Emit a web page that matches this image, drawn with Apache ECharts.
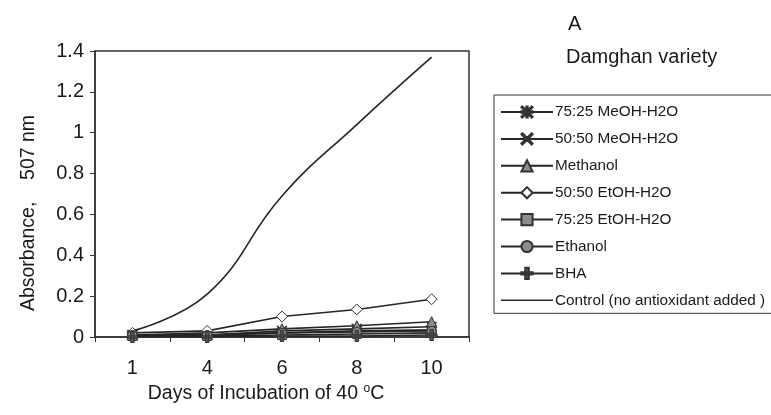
<!DOCTYPE html>
<html>
<head>
<meta charset="utf-8">
<script src="https://cdn.jsdelivr.net/npm/echarts@6/dist/echarts.min.js"></script>
<style>
	html, body { margin: 0; padding: 0; background: #fff; }
	#chart { width: 771px; height: 415px; }
</style>
</head>
<body>
<div id="chart"></div>
<script>
	// 横轴：培养天数
	var days = ['1', '4', '6', '8', '10'];
	var yTicks = [0, 0.2, 0.4, 0.6, 0.8, 1, 1.2, 1.4];

	// 各提取物吸光度
	var meoh7525 = [0.01, 0.01, 0.03, 0.04, 0.05];
	var meoh5050 = [0.01, 0.01, 0.02, 0.03, 0.035];
	var methanol = [0.01, 0.02, 0.04, 0.055, 0.075];
	var etoh5050 = [0.02, 0.03, 0.1, 0.135, 0.185];
	var etoh7525 = [0.005, 0.005, 0.01, 0.015, 0.02];
	var ethanol = [0.01, 0.01, 0.02, 0.025, 0.03];
	var bha = [0, 0, 0.005, 0.005, 0.01];
	var control = [0.03, 0.21, 0.69, 1.04, 1.37];

	var seriesNames = ['75:25 MeOH-H2O', '50:50 MeOH-H2O', 'Methanol', '50:50 EtOH-H2O',
		'75:25 EtOH-H2O', 'Ethanol', 'BHA', 'Control (no antioxidant added )'];

	var asterisk = 'path://M4.4 0h1.2v10h-1.2Z M0 4.4h10v1.2h-10Z M0.8 0L10 9.2L9.2 10L0 0.8Z M9.2 0L10 0.8L0.8 10L0 9.2Z';
	var cross = 'path://M0.9 0L10 9.1L9.1 10L0 0.9Z M9.1 0L10 0.9L0.9 10L0 9.1Z';
	var bar = 'path://M4.2 0h1.6v10h-1.6Z M2.5 4h5v2h-5Z';
	var plainLine = 'path://M0 0h52v1.6h-52Z';

	var lineColor = '#262626';
	var fontName = 'Liberation Sans';
	var txt = '#1a1a1a';

	function mkSeries(name, data, symbol, size, fill) {
		return {
			name: name,
			type: 'line',
			data: data,
			symbol: symbol,
			symbolSize: size,
			showSymbol: symbol != 'none',
			lineStyle: { color: lineColor, width: 1.6 },
			itemStyle: { color: fill, borderColor: '#333', borderWidth: 1 },
			emphasis: { disabled: true }
		};
	}

	var series = [
		mkSeries(seriesNames[0], meoh7525, asterisk, 10, '#555'),
		mkSeries(seriesNames[1], meoh5050, cross, 10, '#555'),
		mkSeries(seriesNames[2], methanol, 'triangle', 10, '#8c8c8c'),
		mkSeries(seriesNames[3], etoh5050, 'diamond', 11, '#fff'),
		mkSeries(seriesNames[4], etoh7525, 'rect', 9, '#8c8c8c'),
		mkSeries(seriesNames[5], ethanol, 'circle', 9, '#8c8c8c'),
		mkSeries(seriesNames[6], bha, bar, 11, '#555'),
		mkSeries(seriesNames[7], control, 'none', 0, lineColor)
	];
	series[7].smooth = 0.45;

	var legendData = seriesNames.map(function(n, i) {
		if (i == 7) return { name: n, icon: plainLine, itemStyle: { color: lineColor, borderWidth: 0 } };
		return { name: n };
	});

	var myChart = echarts.init(document.getElementById('chart'));
	var option = {
		animation: false,
		textStyle: { fontFamily: fontName, color: txt },
		title: [
			{ text: 'A', left: 563, top: 9, textStyle: { fontSize: 20, fontWeight: 'normal', color: txt, fontFamily: fontName } },
			{ text: 'Damghan variety', left: 561, top: 42, textStyle: { fontSize: 20, fontWeight: 'normal', color: txt, fontFamily: fontName } }
		],
		legend: {
			orient: 'vertical',
			left: 494,
			top: 95,
			padding: [9, 40, 5, 6],
			itemWidth: 52,
			itemHeight: 14,
			itemGap: 10.9,
			borderColor: '#333',
			borderWidth: 1,
			data: legendData,
			textStyle: { fontSize: 15.3, lineHeight: 16, color: txt, fontFamily: fontName, padding: [0, 0, 0, -3] }
		},
		grid: {
			left: 95,
			right: 302,
			top: 51,
			bottom: 78,
			show: true,
			borderColor: '#333',
			borderWidth: 1.5
		},
		xAxis: {
			type: 'category',
			data: days,
			boundaryGap: true,
			axisLine: { lineStyle: { color: '#333', width: 1.5 } },
			axisTick: { show: true, length: 5, lineStyle: { color: '#333' } },
			axisLabel: { fontSize: 20, color: txt, margin: 21 },
			name: 'Days of Incubation of 40 {sup|o}C',
			nameLocation: 'middle',
			nameGap: 43,
			nameTextStyle: {
				fontSize: 19.5, color: txt, padding: [0, 32, 0, 0],
				rich: { sup: { fontSize: 12, padding: [0, 0, 10, 0], color: txt } }
			},
			splitLine: { show: false }
		},
		yAxis: {
			type: 'value',
			min: yTicks[0],
			max: yTicks[yTicks.length - 1],
			interval: 0.2,
			axisLine: { show: true, lineStyle: { color: '#333', width: 1.5 } },
			axisTick: { show: true, length: 5, lineStyle: { color: '#333' } },
			axisLabel: { fontSize: 20, color: txt, margin: 11 },
			name: 'Absorbance,    507 nm',
			nameLocation: 'middle',
			nameGap: 56,
			nameTextStyle: { fontSize: 19.5, color: txt, padding: [0, 38, 0, 0] },
			splitLine: { show: false }
		},
		series: series
	};
	myChart.setOption(option);
</script>
</body>
</html>
